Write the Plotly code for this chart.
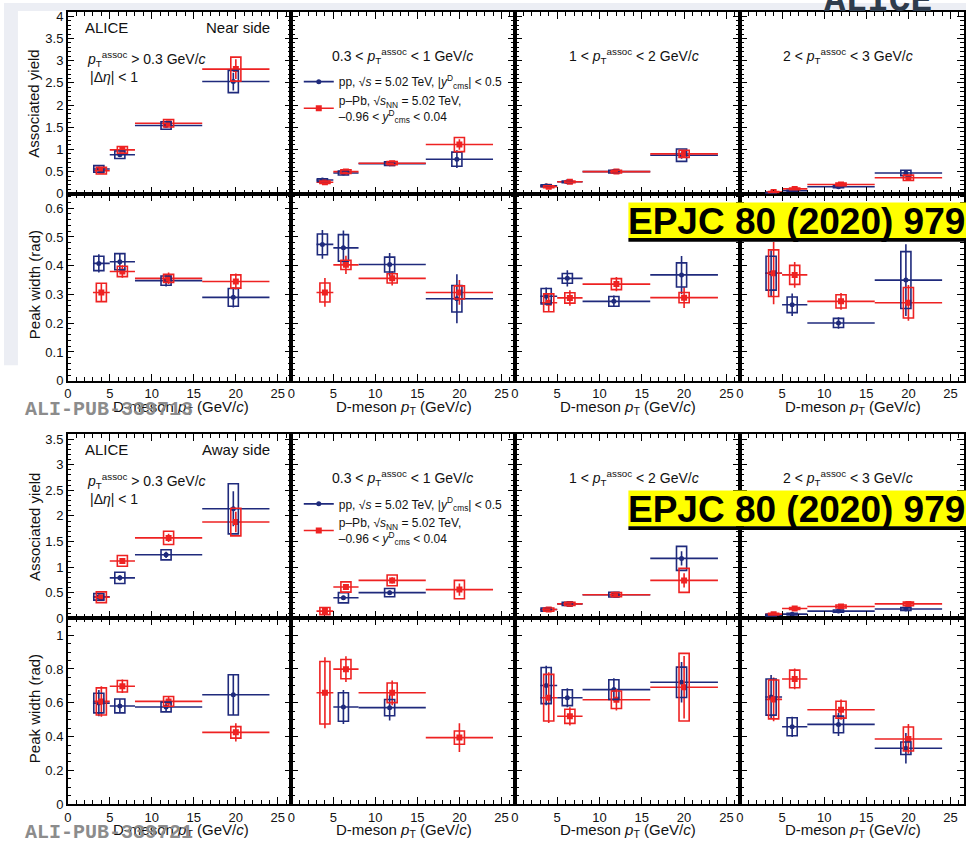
import plotly.graph_objects as go

W, H = 966, 851

# D-meson pT bins and marker positions inside each bin
pt_lo = [3, 5, 8, 16]
pt_hi = [5, 8, 16, 24]
pt_pp = [3.7, 6.2, 11.7, 19.7]
pt_ppb = [4.0, 6.5, 12.0, 20.0]

assoc_headers = [
    "<i>p</i><sub>T</sub><sup>assoc</sup> > 0.3 GeV/<i>c</i>",
    "0.3 < <i>p</i><sub>T</sub><sup>assoc</sup> < 1 GeV/<i>c</i>",
    "1 < <i>p</i><sub>T</sub><sup>assoc</sup> < 2 GeV/<i>c</i>",
    "2 < <i>p</i><sub>T</sub><sup>assoc</sup> < 3 GeV/<i>c</i>",
]

# ---- Near side: associated yield (one list per pT-assoc column) ----
ns_yield_pp = [[0.56, 0.88, 1.54, 2.53], [0.31, 0.47, 0.68, 0.78],
               [0.18, 0.27, 0.50, 0.87], [0.02, 0.07, 0.16, 0.47]]
ns_yield_pp_stat = [[0.03, 0.04, 0.04, 0.20], [0.02, 0.02, 0.02, 0.20],
                    [0.01, 0.01, 0.02, 0.08], [0.01, 0.01, 0.02, 0.04]]
ns_yield_pp_sys = [[0.075, 0.085, 0.085, 0.25], [0.03, 0.045, 0.04, 0.16],
                   [0.02, 0.02, 0.03, 0.14], [0.01, 0.01, 0.02, 0.06]]
ns_yield_ppb = [[0.52, 0.99, 1.59, 2.81], [0.26, 0.50, 0.69, 1.11],
                [0.16, 0.27, 0.50, 0.90], [0.04, 0.11, 0.21, 0.36]]
ns_yield_ppb_stat = [[0.03, 0.04, 0.05, 0.22], [0.02, 0.03, 0.02, 0.12],
                     [0.01, 0.01, 0.02, 0.08], [0.01, 0.02, 0.02, 0.04]]
ns_yield_ppb_sys = [[0.075, 0.075, 0.085, 0.27], [0.025, 0.04, 0.035, 0.16],
                    [0.02, 0.02, 0.03, 0.08], [0.01, 0.02, 0.03, 0.06]]

# ---- Near side: peak width (rad) ----
ns_width_pp = [[0.408, 0.414, 0.348, 0.290], [0.474, 0.462, 0.404, 0.285],
               [0.294, 0.356, 0.276, 0.368], [0.374, 0.264, 0.201, 0.350]]
ns_width_pp_stat = [[0.032, 0.030, 0.020, 0.035], [0.050, 0.060, 0.040, 0.085],
                    [0.030, 0.028, 0.020, 0.066], [0.080, 0.039, 0.020, 0.125]]
ns_width_pp_sys = [[0.025, 0.028, 0.016, 0.031], [0.036, 0.046, 0.026, 0.046],
                   [0.027, 0.017, 0.017, 0.042], [0.059, 0.027, 0.016, 0.099]]
ns_width_ppb = [[0.307, 0.380, 0.356, 0.345], [0.307, 0.403, 0.356, 0.307],
                [0.271, 0.288, 0.336, 0.289], [0.374, 0.368, 0.276, 0.271]]
ns_width_ppb_stat = [[0.033, 0.022, 0.020, 0.028], [0.050, 0.032, 0.025, 0.043],
                     [0.030, 0.027, 0.025, 0.036], [0.108, 0.045, 0.029, 0.062]]
ns_width_ppb_sys = [[0.032, 0.018, 0.014, 0.023], [0.033, 0.016, 0.016, 0.023],
                    [0.031, 0.018, 0.019, 0.018], [0.081, 0.033, 0.023, 0.053]]

# ---- Away side: associated yield ----
as_yield_pp = [[0.42, 0.79, 1.24, 2.14], [None, 0.40, 0.50, None],
               [0.17, 0.28, 0.46, 1.17], [0.06, 0.08, 0.14, 0.18]]
as_yield_pp_stat = [[0.04, 0.05, 0.06, 0.34], [None, 0.04, 0.04, None],
                    [0.02, 0.02, 0.03, 0.14], [0.01, 0.01, 0.02, 0.03]]
as_yield_pp_sys = [[0.065, 0.11, 0.10, 0.49], [None, 0.10, 0.08, None],
                   [0.03, 0.03, 0.045, 0.235], [0.015, 0.015, 0.02, 0.03]]
as_yield_ppb = [[0.41, 1.12, 1.57, 1.88], [0.14, 0.61, 0.74, 0.56],
                [0.17, 0.28, 0.46, 0.74], [0.08, 0.19, 0.23, 0.28]]
as_yield_ppb_stat = [[0.04, 0.06, 0.08, 0.20], [0.03, 0.05, 0.06, 0.12],
                     [0.02, 0.02, 0.03, 0.14], [0.01, 0.02, 0.03, 0.04]]
as_yield_ppb_sys = [[0.105, 0.105, 0.13, 0.27], [0.07, 0.10, 0.105, 0.18],
                    [0.03, 0.03, 0.04, 0.235], [0.015, 0.02, 0.03, 0.035]]

# ---- Away side: peak width (rad) ----
as_width_pp = [[0.598, 0.581, 0.575, 0.647], [None, 0.575, 0.571, None],
               [0.702, 0.630, 0.678, 0.721], [0.634, 0.458, 0.472, 0.331]]
as_width_pp_stat = [[0.078, 0.040, 0.030, 0.120], [None, 0.100, 0.076, None],
                    [0.117, 0.056, 0.067, 0.120], [0.130, 0.060, 0.068, 0.090]]
as_width_pp_sys = [[0.058, 0.041, 0.029, 0.119], [None, 0.084, 0.048, None],
                   [0.107, 0.047, 0.058, 0.090], [0.107, 0.053, 0.049, 0.037]]
as_width_ppb = [[0.608, 0.698, 0.608, 0.425], [0.659, 0.799, 0.659, 0.394],
                [0.630, 0.520, 0.618, 0.692], [0.620, 0.741, 0.559, 0.386]]
as_width_ppb_stat = [[0.090, 0.040, 0.030, 0.054], [0.210, 0.076, 0.073, 0.085],
                     [0.150, 0.054, 0.063, 0.185], [0.130, 0.061, 0.060, 0.088]]
as_width_ppb_sys = [[0.080, 0.034, 0.029, 0.034], [0.185, 0.057, 0.058, 0.039],
                    [0.138, 0.042, 0.052, 0.200], [0.115, 0.052, 0.050, 0.071]]

PP_COLOR = "#1f2a7c"
PPB_COLOR = "#ee2222"
FONT = "Liberation Sans, Arial, sans-serif"
BOX_HALF = 0.6

# panel geometry in page pixels
col_px = [64, 288.5, 513, 739, 964]
block_px = [(9, 193.3, 382.7), (436.7, 623.3, 811.7)]
x_range = [0, 26.6]

blocks = [
    {"name": "Near side", "pub": "ALI-PUB-339713",
     "rows": [
         {"range": [0, 4.1], "dtick": 0.5, "minor": 0.1,
          "pp": (ns_yield_pp, ns_yield_pp_stat, ns_yield_pp_sys),
          "ppb": (ns_yield_ppb, ns_yield_ppb_stat, ns_yield_ppb_sys)},
         {"range": [0, 0.65], "dtick": 0.1, "minor": 0.02,
          "pp": (ns_width_pp, ns_width_pp_stat, ns_width_pp_sys),
          "ppb": (ns_width_ppb, ns_width_ppb_stat, ns_width_ppb_sys)},
     ]},
    {"name": "Away side", "pub": "ALI-PUB-339721",
     "rows": [
         {"range": [0, 3.6], "dtick": 0.5, "minor": 0.1,
          "pp": (as_yield_pp, as_yield_pp_stat, as_yield_pp_sys),
          "ppb": (as_yield_ppb, as_yield_ppb_stat, as_yield_ppb_sys)},
         {"range": [0, 1.1], "dtick": 0.2, "minor": 0.05,
          "pp": (as_width_pp, as_width_pp_stat, as_width_pp_sys),
          "ppb": (as_width_ppb, as_width_ppb_stat, as_width_ppb_sys)},
     ]},
]


def fx(px):
    return px / W


def fy(py):
    return 1 - py / H


fig = go.Figure()
layout = {}
shapes = []
annotations = []


def note(text, x, y, size, xanchor="center", yanchor="middle", family=FONT,
         color="#111", **kw):
    annotations.append(dict(text=text, x=fx(x), y=fy(y), xref="paper", yref="paper",
                            showarrow=False, xanchor=xanchor, yanchor=yanchor,
                            font=dict(family=family, size=size, color=color), **kw))


def add_series(k, xs, vals, stats, syss, color, symbol, msize):
    xref = "x" if k == 1 else f"x{k}"
    yref = "y" if k == 1 else f"y{k}"
    px, py, ep, em, es = [], [], [], [], []
    for i in range(4):
        if vals[i] is None:
            continue
        px.append(xs[i])
        py.append(vals[i])
        ep.append(pt_hi[i] - xs[i])
        em.append(xs[i] - pt_lo[i])
        es.append(stats[i])
        shapes.append(dict(type="rect", xref=xref, yref=yref,
                           x0=xs[i] - BOX_HALF, x1=xs[i] + BOX_HALF,
                           y0=vals[i] - syss[i], y1=vals[i] + syss[i],
                           line=dict(color=color, width=1.6),
                           fillcolor="rgba(0,0,0,0)", layer="above"))
    fig.add_trace(go.Scatter(
        x=px, y=py, xaxis=xref, yaxis=yref, mode="markers",
        marker=dict(color=color, symbol=symbol, size=msize),
        error_x=dict(type="data", symmetric=False, array=ep, arrayminus=em,
                     color=color, thickness=1.6, width=0),
        error_y=dict(type="data", array=es, color=color, thickness=1.6, width=0),
        showlegend=False, hoverinfo="skip"))


for b, blk in enumerate(blocks):
    for r, row in enumerate(blk["rows"]):
        top_px, bot_px = block_px[b][r], block_px[b][r + 1]
        for c in range(4):
            k = 1 + b * 8 + r * 4 + c
            xname = "xaxis" if k == 1 else f"xaxis{k}"
            yname = "yaxis" if k == 1 else f"yaxis{k}"
            xa = "x" if k == 1 else f"x{k}"
            ya = "y" if k == 1 else f"y{k}"
            layout[xname] = dict(
                domain=[fx(col_px[c]), fx(col_px[c + 1])], range=x_range,
                anchor=ya, showgrid=False, zeroline=False, showline=True,
                linecolor="black", linewidth=1.5, mirror="allticks",
                ticks="inside", ticklen=7, tickwidth=1, tickcolor="black",
                tick0=0, dtick=5,
                minor=dict(dtick=1, ticks="inside", ticklen=4, tickwidth=1,
                           tickcolor="black", showgrid=False),
                showticklabels=(r == 1),
                tickfont=dict(family=FONT, size=13, color="#111"),
                fixedrange=True)
            layout[yname] = dict(
                domain=[fy(bot_px), fy(top_px)], range=row["range"],
                anchor=xa, showgrid=False, zeroline=False, showline=True,
                linecolor="black", linewidth=1.5, mirror="allticks",
                ticks="inside", ticklen=7, tickwidth=1, tickcolor="black",
                tick0=0, dtick=row["dtick"],
                minor=dict(dtick=row["minor"], ticks="inside", ticklen=4,
                           tickwidth=1, tickcolor="black", showgrid=False),
                showticklabels=(c == 0),
                tickfont=dict(family=FONT, size=13, color="#111"),
                fixedrange=True)
            pv, ps, pe = row["pp"]
            bv, bs, be = row["ppb"]
            add_series(k, pt_pp, pv[c], ps[c], pe[c], PP_COLOR, "circle", 5)
            add_series(k, pt_ppb, bv[c], bs[c], be[c], PPB_COLOR, "square", 6)

    off = block_px[b][0] - block_px[0][0]
    # y-axis titles
    note("Associated yield", 30, (block_px[b][0] + block_px[b][1]) / 2 + 1, 15, textangle=-90)
    note("Peak width (rad)", 30, (block_px[b][1] + block_px[b][2]) / 2 - 3, 15, textangle=-90)
    # x-axis titles
    for c in range(4):
        note("D-meson <i>p</i><sub>T</sub> (GeV/<i>c</i>)",
             (col_px[c] + col_px[c + 1]) / 2 + 1, block_px[b][2] + 27, 15)
    # panel texts
    note("ALICE", 79, 25 + off, 15, xanchor="left")
    note(blk["name"], 269, 25 + off, 15, xanchor="right")
    note(assoc_headers[0], 81, 57 + off, 14, xanchor="left")
    note("|Δ<i>η</i>| < 1", 84, 75 + off, 14, xanchor="left")
    for c, cx in zip(range(1, 4), [400, 633, 848]):
        note(assoc_headers[c], cx, 54 + off, 14)
    # publication id
    note("<b>" + blk["pub"] + "</b>", 19, block_px[b][2] + 29, 20, xanchor="left",
         family="Liberation Mono, Courier New, monospace", color="#8c8c8c")
    # legend-only entries
    lg = "legend" if b == 0 else "legend2"
    fig.add_trace(go.Scatter(x=[None], y=[None], mode="lines+markers", legend=lg,
                             name="pp, √<i>s</i> = 5.02 TeV, |<i>y</i><sup>D</sup><sub>cms</sub>| < 0.5",
                             line=dict(color=PP_COLOR, width=1.6),
                             marker=dict(color=PP_COLOR, symbol="circle", size=5)))
    fig.add_trace(go.Scatter(x=[None], y=[None], mode="lines+markers", legend=lg,
                             name="p–Pb, √<i>s</i><sub>NN</sub> = 5.02 TeV,<br>–0.96 < <i>y</i><sup>D</sup><sub>cms</sub> < 0.04",
                             line=dict(color=PPB_COLOR, width=1.6),
                             marker=dict(color=PPB_COLOR, symbol="square", size=6)))
    layout[lg] = dict(x=fx(296), y=fy(65 + off), xanchor="left", yanchor="top",
                      bgcolor="rgba(0,0,0,0)", font=dict(family=FONT, size=12, color="#111"),
                      tracegroupgap=0, itemwidth=30)

# slide background strips
shapes.append(dict(type="rect", xref="paper", yref="paper", x0=0, x1=1, y0=fy(8), y1=1,
                   fillcolor="#eceef4", line=dict(width=0), layer="below"))
shapes.append(dict(type="rect", xref="paper", yref="paper", x0=0, x1=fx(14), y0=fy(367), y1=1,
                   fillcolor="#eceef4", line=dict(width=0), layer="below"))

# journal reference stickers
for ytop in (202, 494):
    shapes.append(dict(type="rect", xref="paper", yref="paper", x0=fx(627), x1=1,
                       y0=fy(ytop + 36), y1=fy(ytop), fillcolor="#ffff00", line=dict(width=0), layer="above"))
    shapes.append(dict(type="rect", xref="paper", yref="paper", x0=fx(627), x1=1,
                       y0=fy(ytop + 40), y1=fy(ytop + 36), fillcolor="#000000", line=dict(width=0), layer="above"))
    note("<b>EPJC 80 (2020) 979</b>", 796, ytop + 19, 37, color="#000")

# logo lettering at the top edge
note("<b>ALICE</b>", 878, -2, 36, family="Liberation Mono, monospace", color="#2f3c4c")

fig.update_layout(**layout)
fig.update_layout(width=W, height=H, margin=dict(l=0, r=0, t=0, b=0),
                  paper_bgcolor="white", plot_bgcolor="white",
                  shapes=shapes, annotations=annotations, showlegend=True)

fig.write_html("out.html")
